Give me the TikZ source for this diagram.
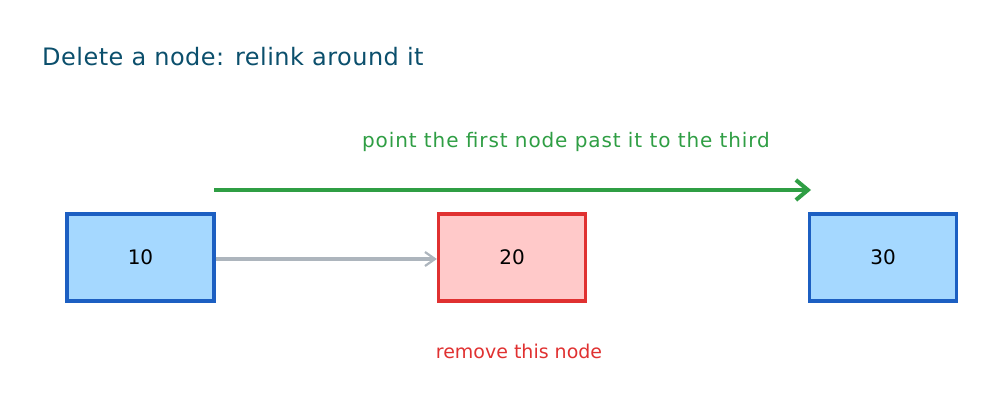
\documentclass[tikz,border=0pt]{standalone}
\usepackage{fontspec}
\setmainfont{DejaVu Sans}
\newfontfamily\handfont{DejaVu Sans}
\usetikzlibrary{arrows.meta}
\definecolor{boxblue}{HTML}{1C5FC2}
\definecolor{fillblue}{HTML}{A5D8FF}
\definecolor{boxred}{HTML}{E03131}
\definecolor{fillred}{HTML}{FFC9C9}
\definecolor{arrgray}{HTML}{ADB5BD}
\definecolor{arrgreen}{HTML}{2F9E44}
\definecolor{titlecol}{HTML}{0B4F6C}
\tikzset{
  listnode/.style={draw=boxblue, fill=fillblue, line width=3.2pt, minimum width=147pt, minimum height=87pt, inner sep=0pt, font=\handfont\fontsize{20}{22}\selectfont, text=black},
  delnode/.style={listnode, draw=boxred, fill=fillred},
  grayarrow/.style={draw=arrgray, line width=3.2pt, -{Straight Barb[length=10pt,width=14pt,line width=2.2pt]}},
  greenarrow/.style={draw=arrgreen, line width=4.6pt, -{Straight Barb[length=12pt,width=20pt,line width=4pt]}},
  lbl/.style={inner sep=0pt, anchor=base west}
}
\begin{document}
\begin{tikzpicture}[x=1pt,y=-1pt]
\useasboundingbox (0,0) rectangle (1000,407);
\node[lbl, text=titlecol, font=\handfont\fontsize{24}{26}\selectfont\addfontfeature{LetterSpace=2}] (title) at (42,65) {Delete a node: relink around it};
\node[listnode] (n10) at (140.5,257.5) {10};
\node[delnode] (n20) at (512,257.5) {20};
\node[listnode] (n30) at (883,257.5) {30};
\draw[grayarrow] (n10.east |- 0,259) -- (n20.west |- 0,259);
\coordinate (gs) at (214,190);
\coordinate (ge) at (811,190);
\draw[greenarrow] (gs) -- (ge);
\node[inner sep=0pt, anchor=base, text=arrgreen, font=\handfont\fontsize{20}{21}\selectfont\addfontfeature{LetterSpace=4.5}] (glabel) at (566,147) {point the first node past it to the third};
\node[inner sep=0pt, anchor=base, text=boxred, font=\handfont\fontsize{19}{20}\selectfont] (rlabel) at (519,358) {remove this node};
\end{tikzpicture}
\end{document}
